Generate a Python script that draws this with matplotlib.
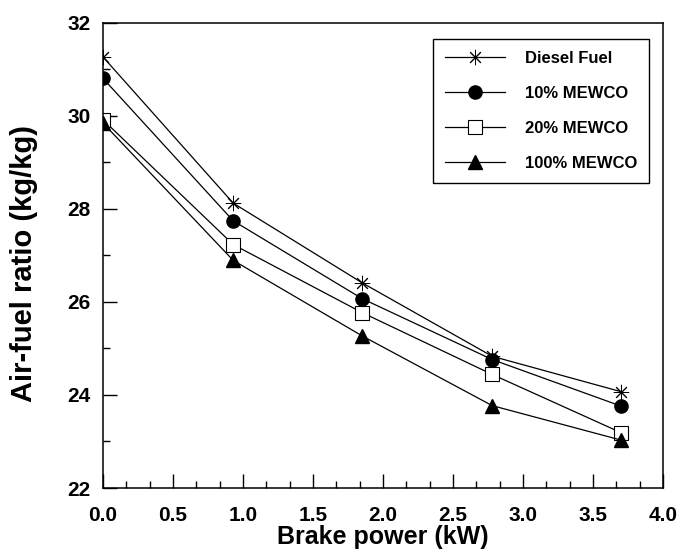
import matplotlib
matplotlib.use("Agg")
import matplotlib.pyplot as plt
from matplotlib.ticker import MultipleLocator, FormatStrFormatter

plt.rcParams['font.family'] = ['Liberation Sans', 'DejaVu Sans']
plt.rcParams['font.weight'] = 'bold'

brake_power = [0.0, 0.93, 1.85, 2.78, 3.70]
diesel = [31.26, 28.12, 26.41, 24.83, 24.07]
mewco10 = [30.80, 27.74, 26.07, 24.76, 23.76]
mewco20 = [29.91, 27.23, 25.77, 24.44, 23.19]
mewco100 = [29.84, 26.89, 25.27, 23.77, 23.03]

labels = ["Diesel Fuel", "10% MEWCO", "20% MEWCO", "100% MEWCO"]

fig = plt.figure(figsize=(6.79, 5.53), dpi=100)
ax = fig.add_axes([0.1517, 0.1175, 0.8247, 0.8418])

lw = 0.9
ax.plot(brake_power, diesel, color='black', lw=lw, marker=(8, 2, 0), ms=11,
        mew=0.7, mfc='none', mec='black', label=labels[0])
ax.plot(brake_power, mewco10, color='black', lw=lw, marker='o', ms=9.5,
        mfc='black', mec='black', label=labels[1])
ax.plot(brake_power, mewco20, color='black', lw=lw, marker='s', ms=10,
        mew=0.8, mfc='white', mec='black', label=labels[2])
ax.plot(brake_power, mewco100, color='black', lw=lw, marker='^', ms=9.5,
        mfc='black', mec='black', label=labels[3])

ax.set_xlim(0, 4.0)
ax.set_ylim(22, 32)
ax.xaxis.set_major_locator(MultipleLocator(0.5))
ax.xaxis.set_minor_locator(MultipleLocator(0.5 / 3))
ax.yaxis.set_major_locator(MultipleLocator(2))
ax.yaxis.set_minor_locator(MultipleLocator(1))
ax.xaxis.set_major_formatter(FormatStrFormatter('%.1f'))

ax.tick_params(axis='both', which='both', direction='in', top=False, right=False,
               width=1.0, labelsize=15)
ax.tick_params(axis='both', which='major', length=10)
ax.tick_params(axis='both', which='minor', length=5)
ax.tick_params(axis='x', which='major', pad=13)
ax.tick_params(axis='y', which='major', pad=9)
for lab in ax.get_xticklabels() + ax.get_yticklabels():
    lab.set_fontweight('bold')

for s in ax.spines.values():
    s.set_linewidth(1.1)

ax.set_xlabel("Brake power (kW)", fontsize=18, fontweight='bold')
ax.set_ylabel("Air-fuel ratio (kg/kg)", fontsize=21, fontweight='bold')
ax.xaxis.set_label_coords(0.5, -0.08)
ax.yaxis.set_label_coords(-0.116, 0.483)

leg = ax.legend(loc='upper right', bbox_to_anchor=(0.975, 0.9635), borderaxespad=0,
                fancybox=False, frameon=True, edgecolor='black', framealpha=1,
                prop={'weight': 'bold', 'size': 12}, handlelength=3.6,
                labelspacing=1.2, borderpad=0.7, handletextpad=1.2, numpoints=1)
leg.get_frame().set_linewidth(1.0)

fig.savefig("out.png", dpi=100)
